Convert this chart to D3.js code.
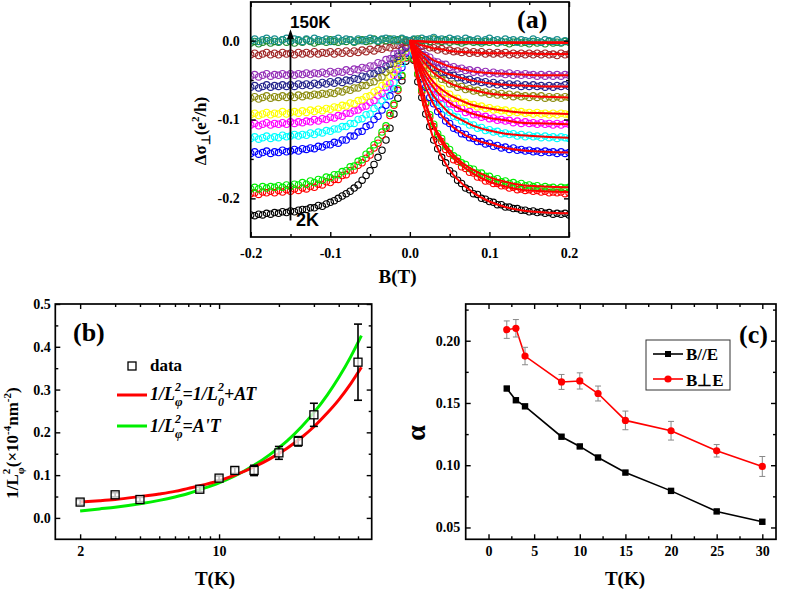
<!DOCTYPE html>
<html><head><meta charset="utf-8">
<script src="https://cdn.jsdelivr.net/npm/d3@7"></script>
<style>body{margin:0;background:#fff}svg{display:block}</style>
</head><body>
<svg id="chart" width="787" height="592"></svg>
<script>
// ---------- Panel (a): magnetoconductance vs B ----------
const fieldB = [-0.200,-0.195,-0.190,-0.185,-0.180,-0.175,-0.170,-0.165,-0.160,-0.155,-0.150,-0.145,-0.140,-0.135,-0.130,-0.125,-0.120,-0.115,-0.110,-0.105,-0.100,-0.095,-0.090,-0.085,-0.080,-0.075,-0.070,-0.065,-0.060,-0.055,-0.050,-0.045,-0.040,-0.035,-0.030,-0.025,-0.020,-0.015,-0.010,-0.005,0,
0.005,0.010,0.015,0.020,0.025,0.030,0.035,0.040,0.045,0.050,0.055,0.060,0.065,0.070,0.075,0.080,0.085,0.090,0.095,0.100,0.105,0.110,0.115,0.120,0.125,0.130,0.135,0.140,0.145,0.150,0.155,0.160,0.165,0.170,0.175,0.180,0.185,0.190,0.195,0.200];
const temps = ["2K","3K","4K","8K","10K","12K","15K","20K","25K","30K","50K","100K","150K"];
const seriesColors = ["#000000","#ff0000","#00ee00","#0000ff","#00ffff","#ff00ff","#ffff00","#8c8c10","#24248c","#9530b8","#a02828","#1e8a2a","#1a9090"];
const ds2K = [-.221,-.222,-.220,-.221,-.219,-.220,-.218,-.219,-.217,-.218,-.216,-.217,-.215,-.214,-.214,-.212,-.212,-.209,-.210,-.207,-.205,-.203,-.200,-.197,-.194,-.191,-.187,-.183,-.177,-.171,-.165,-.157,-.148,-.139,-.126,-.111,-.093,-.073,-.051,-.026,0,
-.025,-.052,-.072,-.093,-.109,-.126,-.137,-.148,-.155,-.165,-.169,-.177,-.181,-.187,-.189,-.194,-.195,-.200,-.201,-.204,-.205,-.208,-.208,-.211,-.211,-.213,-.213,-.215,-.215,-.217,-.216,-.218,-.217,-.219,-.218,-.220,-.219,-.220,-.219,-.221];
const ds3K = [-.194,-.193,-.195,-.192,-.193,-.191,-.193,-.190,-.192,-.189,-.191,-.188,-.190,-.187,-.188,-.185,-.186,-.182,-.183,-.179,-.180,-.176,-.176,-.171,-.170,-.165,-.164,-.158,-.155,-.149,-.145,-.136,-.130,-.120,-.111,-.095,-.082,-.063,-.045,-.022,0,
-.024,-.043,-.065,-.080,-.097,-.109,-.122,-.128,-.138,-.143,-.151,-.153,-.160,-.162,-.167,-.168,-.173,-.174,-.178,-.178,-.181,-.181,-.184,-.184,-.187,-.186,-.189,-.188,-.190,-.189,-.191,-.190,-.192,-.191,-.193,-.192,-.193,-.192,-.194,-.193];
const ds4K = [-.188,-.186,-.188,-.185,-.187,-.185,-.186,-.184,-.186,-.183,-.185,-.182,-.183,-.180,-.182,-.178,-.180,-.176,-.177,-.173,-.174,-.170,-.170,-.166,-.165,-.160,-.159,-.153,-.151,-.144,-.140,-.132,-.126,-.116,-.108,-.092,-.080,-.061,-.044,-.021,0,
-.023,-.042,-.063,-.078,-.094,-.106,-.118,-.124,-.134,-.138,-.146,-.149,-.155,-.157,-.162,-.163,-.168,-.168,-.172,-.172,-.176,-.175,-.179,-.178,-.181,-.180,-.183,-.181,-.184,-.183,-.185,-.184,-.187,-.185,-.187,-.186,-.188,-.186,-.187,-.186];
const ds8K = [-.143,-.141,-.144,-.142,-.140,-.143,-.141,-.142,-.139,-.141,-.140,-.138,-.140,-.137,-.138,-.136,-.137,-.134,-.135,-.132,-.132,-.129,-.130,-.126,-.126,-.121,-.121,-.116,-.115,-.109,-.107,-.100,-.096,-.088,-.082,-.070,-.061,-.046,-.034,-.016,0,
-.018,-.032,-.048,-.059,-.072,-.080,-.090,-.094,-.102,-.105,-.111,-.113,-.118,-.119,-.123,-.124,-.128,-.128,-.131,-.130,-.134,-.133,-.136,-.135,-.138,-.136,-.139,-.138,-.140,-.139,-.141,-.140,-.142,-.140,-.142,-.141,-.143,-.141,-.143,-.142];
const ds10K = [-.124,-.122,-.125,-.123,-.121,-.124,-.122,-.123,-.120,-.122,-.121,-.119,-.121,-.119,-.120,-.117,-.119,-.116,-.117,-.114,-.115,-.112,-.112,-.109,-.109,-.105,-.105,-.100,-.099,-.094,-.093,-.086,-.083,-.076,-.071,-.060,-.053,-.040,-.029,-.014,0,
-.016,-.027,-.042,-.051,-.062,-.069,-.078,-.081,-.088,-.091,-.096,-.097,-.102,-.103,-.107,-.107,-.111,-.110,-.114,-.113,-.116,-.115,-.118,-.117,-.119,-.118,-.121,-.119,-.122,-.120,-.122,-.121,-.123,-.121,-.123,-.122,-.124,-.122,-.123,-.124];
const ds12K = [-.107,-.105,-.108,-.106,-.104,-.107,-.105,-.106,-.104,-.106,-.103,-.105,-.103,-.104,-.102,-.103,-.100,-.102,-.099,-.100,-.097,-.098,-.095,-.096,-.092,-.092,-.089,-.088,-.084,-.083,-.078,-.076,-.070,-.067,-.059,-.054,-.044,-.036,-.023,-.014,0,
-.012,-.025,-.034,-.046,-.052,-.061,-.065,-.072,-.074,-.080,-.081,-.086,-.086,-.091,-.090,-.094,-.094,-.097,-.096,-.099,-.098,-.101,-.100,-.102,-.101,-.104,-.102,-.105,-.103,-.105,-.104,-.106,-.104,-.106,-.105,-.107,-.105,-.107,-.105,-.106];
const ds15K = [-.094,-.092,-.095,-.093,-.091,-.094,-.092,-.093,-.090,-.093,-.091,-.090,-.092,-.089,-.091,-.088,-.090,-.087,-.089,-.086,-.087,-.084,-.085,-.082,-.083,-.079,-.080,-.076,-.075,-.071,-.070,-.065,-.063,-.057,-.054,-.045,-.040,-.030,-.022,-.010,0,
-.012,-.020,-.032,-.038,-.047,-.052,-.059,-.061,-.067,-.068,-.073,-.073,-.078,-.078,-.081,-.081,-.084,-.083,-.086,-.085,-.088,-.087,-.089,-.088,-.091,-.089,-.091,-.090,-.092,-.091,-.093,-.091,-.093,-.092,-.094,-.092,-.094,-.092,-.093,-.094];
const ds20K = [-.073,-.071,-.074,-.072,-.070,-.073,-.071,-.072,-.070,-.072,-.070,-.072,-.069,-.071,-.069,-.070,-.068,-.069,-.067,-.068,-.066,-.067,-.064,-.065,-.062,-.063,-.060,-.060,-.057,-.057,-.053,-.052,-.047,-.046,-.040,-.037,-.029,-.025,-.016,-.010,0,
-.008,-.018,-.023,-.031,-.035,-.042,-.044,-.049,-.050,-.055,-.055,-.059,-.058,-.062,-.061,-.064,-.063,-.066,-.065,-.068,-.066,-.069,-.067,-.070,-.068,-.071,-.069,-.071,-.070,-.072,-.070,-.072,-.070,-.073,-.071,-.073,-.071,-.073,-.071,-.072];
const ds25K = [-.059,-.057,-.060,-.058,-.056,-.059,-.057,-.058,-.056,-.058,-.056,-.058,-.055,-.057,-.055,-.057,-.054,-.056,-.053,-.055,-.052,-.054,-.051,-.053,-.050,-.051,-.048,-.049,-.045,-.046,-.042,-.042,-.038,-.037,-.032,-.030,-.023,-.020,-.012,-.008,0,
-.006,-.014,-.018,-.025,-.028,-.034,-.035,-.040,-.040,-.044,-.044,-.047,-.047,-.050,-.049,-.052,-.051,-.053,-.052,-.055,-.053,-.056,-.054,-.057,-.055,-.057,-.055,-.058,-.056,-.058,-.056,-.058,-.057,-.059,-.057,-.059,-.057,-.058,-.056,-.058];
const ds30K = [-.045,-.043,-.046,-.044,-.042,-.045,-.043,-.044,-.042,-.044,-.042,-.044,-.042,-.043,-.041,-.043,-.041,-.042,-.040,-.042,-.039,-.041,-.039,-.040,-.037,-.039,-.036,-.037,-.034,-.035,-.032,-.032,-.028,-.029,-.024,-.023,-.017,-.016,-.009,-.006,0,
-.004,-.011,-.014,-.019,-.021,-.026,-.027,-.030,-.030,-.034,-.033,-.036,-.035,-.038,-.037,-.040,-.038,-.041,-.039,-.042,-.040,-.042,-.041,-.043,-.041,-.044,-.042,-.044,-.042,-.044,-.043,-.045,-.043,-.045,-.043,-.045,-.043,-.045,-.043,-.044];
const ds50K = [-.018,-.016,-.019,-.017,-.015,-.018,-.016,-.018,-.015,-.017,-.016,-.018,-.015,-.017,-.015,-.017,-.014,-.017,-.015,-.016,-.014,-.017,-.014,-.016,-.013,-.016,-.013,-.015,-.012,-.014,-.011,-.013,-.010,-.011,-.008,-.009,-.006,-.006,-.003,-.002,0,
-.003,-.003,-.007,-.006,-.009,-.009,-.012,-.010,-.013,-.012,-.014,-.013,-.015,-.013,-.016,-.014,-.016,-.014,-.017,-.015,-.017,-.015,-.017,-.015,-.018,-.016,-.018,-.016,-.018,-.016,-.018,-.016,-.018,-.016,-.018,-.017,-.019,-.016,-.018,-.017];
const ds100K = [-.003,-.001,-.004,-.002,.000,-.003,-.001,-.002,.001,-.002,-.001,-.003,.000,-.002,.001,-.001,-.003,-.001,.000,-.002,.001,-.001,-.002,.000,-.001,.001,-.002,.000,.001,-.001,.000,.002,-.001,.001,.000,.002,.000,.001,.002,.000,0,
.001,.002,.000,.001,-.001,.002,.000,-.001,.001,-.002,.000,-.001,-.003,-.001,.000,-.002,-.001,-.003,-.001,-.002,.000,-.003,-.001,-.002,-.004,-.002,-.001,-.003,-.002,-.004,-.001,-.003,-.002,-.004,-.001,-.003,-.002,-.003,-.001,-.002];
const ds150K = [.000,.002,-.001,.001,.003,.000,.002,-.001,.001,.003,.000,.002,.001,-.001,.002,.000,.003,.001,.000,.002,-.001,.001,.003,.000,.002,.001,-.001,.002,.000,.001,.003,.001,.000,.002,.003,.001,.002,.000,.003,.001,0,
.002,.000,.003,.001,.002,.004,.001,.002,.000,.003,.001,.002,.000,.003,.001,.000,.002,-.001,.001,.003,.000,.001,-.001,.002,.000,.001,-.002,.001,.000,-.001,.002,.000,-.002,.001,.000,-.001,.001,-.002,.000,-.001];
const fitB = [0,0.005,0.01,0.015,0.02,0.03,0.04,0.05,0.06,0.08,0.1,0.12,0.14,0.17,0.2];
const fit2K = [0,-.026,-.051,-.073,-.092,-.125,-.147,-.164,-.176,-.193,-.204,-.211,-.215,-.218,-.219];
const fit3K = [0,-.023,-.044,-.064,-.081,-.110,-.129,-.144,-.154,-.169,-.179,-.185,-.189,-.191,-.192];
const fit4K = [0,-.022,-.043,-.062,-.079,-.107,-.125,-.139,-.150,-.164,-.173,-.179,-.183,-.185,-.186];
const fit8K = [0,-.017,-.033,-.047,-.060,-.081,-.095,-.106,-.114,-.125,-.131,-.136,-.139,-.141,-.142];
const fit10K = [0,-.015,-.028,-.041,-.052,-.070,-.082,-.092,-.098,-.108,-.114,-.118,-.120,-.122,-.123];
const fit12K = [0,-.013,-.024,-.035,-.045,-.060,-.071,-.079,-.085,-.093,-.098,-.101,-.104,-.105,-.106];
const fit15K = [0,-.011,-.021,-.031,-.039,-.053,-.062,-.069,-.074,-.082,-.086,-.089,-.091,-.092,-.093];
const fit20K = [0,-.009,-.017,-.024,-.030,-.041,-.048,-.054,-.058,-.063,-.067,-.069,-.070,-.071,-.072];
const fit25K = [0,-.007,-.013,-.019,-.024,-.033,-.039,-.043,-.046,-.051,-.054,-.056,-.057,-.058,-.058];
const fit30K = [0,-.005,-.010,-.015,-.018,-.025,-.029,-.033,-.035,-.039,-.041,-.042,-.043,-.044,-.044];
const fit50K = [0,-.002,-.004,-.006,-.007,-.010,-.011,-.013,-.014,-.015,-.016,-.016,-.016,-.017,-.017];
const fit100K = [0,-.0003,-.0006,-.0008,-.001,-.0013,-.0015,-.0017,-.0018,-.0019,-.002,-.002,-.002,-.002,-.002];
const fit150K = [0,-.0005,-.001,-.0012,-.0015,-.002,-.0022,-.0024,-.0026,-.0028,-.003,-.003,-.003,-.003,-.003];
const aXTicks = [-0.2,-0.1,0,0.1,0.2], aXLabels = ["-0.2","-0.1","0.0","0.1","0.2"], aXMinor = [-0.15,-0.05,0.05,0.15];
const aYTicks = [-0.2,-0.1,0], aYLabels = ["-0.2","-0.1","0.0"], aYMinor = [-0.15,-0.05];

// ---------- Panel (b): 1/Lphi^2 vs T ----------
const lphiT = [2,3,4,8,10,12,15,20,25,30,50];
const lphiVal = [0.037,0.054,0.043,0.067,0.093,0.111,0.111,0.152,0.179,0.241,0.364];
const lphiErr = [0.006,0.005,0.005,0.006,0.005,0.007,0.012,0.015,0.011,0.027,0.089];
const fitT = [2,2.5,3,4,5,6,7,8,10,12,15,18,22,26,30,35,40,46,52];
const fitRed = [0.037,0.040,0.043,0.050,0.056,0.062,0.069,0.075,0.087,0.100,0.119,0.138,0.163,0.188,0.213,0.245,0.276,0.314,0.352];
const fitGreen = [0.016,0.021,0.025,0.033,0.041,0.049,0.057,0.066,0.082,0.098,0.123,0.148,0.180,0.213,0.246,0.287,0.328,0.377,0.426];
const bXTicks = [2,10], bXLabels = ["2","10"], bXMinor = [3,4,5,6,7,8,9,20,30,40,50];
const bYTicks = [0,0.1,0.2,0.3,0.4,0.5], bYLabels = ["0.0","0.1","0.2","0.3","0.4","0.5"], bYMinor = [0.05,0.15,0.25,0.35,0.45];

// ---------- Panel (c): alpha vs T ----------
const alphaT = [2,3,4,8,10,12,15,20,25,30];
const alphaPar = [0.1616,0.1522,0.1473,0.1229,0.1151,0.1062,0.0941,0.0794,0.0629,0.0546];
const alphaParErr = [0.0015,0.0015,0.0012,0.0012,0.0012,0.0012,0.0012,0.0012,0.0012,0.0018];
const alphaPerp = [0.2089,0.2100,0.1877,0.1669,0.1677,0.1576,0.1360,0.1277,0.1116,0.0990];
const alphaPerpErr = [0.007,0.007,0.007,0.006,0.0065,0.006,0.0075,0.0075,0.005,0.008];
const cXTicks = [0,5,10,15,20,25,30], cXLabels = ["0","5","10","15","20","25","30"], cXMinor = [2.5,7.5,12.5,17.5,22.5,27.5];
const cYTicks = [0.05,0.10,0.15,0.20], cYLabels = ["0.05","0.10","0.15","0.20"], cYMinor = [0.075,0.125,0.175,0.225];

const SERIF = "'Liberation Serif','Times New Roman',serif";
const SANS = "'Liberation Sans',Arial,sans-serif";
const svg = d3.select("#chart");

function drawAxes(g, xs, ys, o) {
  const [xl, xr] = xs.range(), [yb, yt] = ys.range();
  const mk = (axis, tr, vals, size, labels, pad) => {
    const a = axis.tickValues(vals).tickSize(size).tickSizeOuter(0).tickPadding(pad || 0)
      .tickFormat(labels ? (d, i) => labels[i] : () => "");
    const gg = g.append("g").attr("transform", tr).call(a);
    gg.select(".domain").remove();
    gg.attr("font-family", SERIF).attr("font-size", 14).attr("font-weight", "bold");
    gg.selectAll("line").attr("stroke", "#000").attr("stroke-width", 1.4);
    gg.selectAll("text").attr("fill", "#000");
  };
  mk(d3.axisBottom(xs), `translate(0,${yb})`, o.xMajor, -5, o.xLabels, o.xPad);
  mk(d3.axisBottom(xs), `translate(0,${yb})`, o.xMinor, -3);
  mk(d3.axisTop(xs), `translate(0,${yt})`, o.xMajor, -5);
  mk(d3.axisTop(xs), `translate(0,${yt})`, o.xMinor, -3);
  mk(d3.axisLeft(ys), `translate(${xl},0)`, o.yMajor, -5, o.yLabels, o.yPad);
  mk(d3.axisLeft(ys), `translate(${xl},0)`, o.yMinor, -3);
  mk(d3.axisRight(ys), `translate(${xr},0)`, o.yMajor, -5);
  mk(d3.axisRight(ys), `translate(${xr},0)`, o.yMinor, -3);
  g.append("rect").attr("x", xl).attr("y", yt).attr("width", xr - xl).attr("height", yb - yt)
    .attr("fill", "none").attr("stroke", "#000").attr("stroke-width", 1.7);
}

// ===== Panel (a) =====
{
  const g = svg.append("g");
  const x = d3.scaleLinear().domain([-0.2, 0.2]).range([250.7, 569]);
  const y = d3.scaleLinear().domain([-0.249, 0.049]).range([237, 2]);
  svg.append("defs").append("clipPath").attr("id", "clipA").append("rect")
    .attr("x", 250.7).attr("y", 2).attr("width", 569 - 250.7).attr("height", 235);
  const allDs = [ds2K, ds3K, ds4K, ds8K, ds10K, ds12K, ds15K, ds20K, ds25K, ds30K, ds50K, ds100K, ds150K];
  const allFit = [fit2K, fit3K, fit4K, fit8K, fit10K, fit12K, fit15K, fit20K, fit25K, fit30K, fit50K, fit100K, fit150K];
  const pg = g.append("g").attr("clip-path", "url(#clipA)");
  allDs.forEach((vals, k) => {
    pg.append("g").selectAll("circle").data(vals).join("circle")
      .attr("cx", (d, i) => x(fieldB[i])).attr("cy", d => y(d)).attr("r", 3.2)
      .attr("fill", "none").attr("stroke", seriesColors[k]).attr("stroke-width", 1.1);
  });
  const line = d3.line().x((d, i) => x(fitB[i])).y(d => y(d)).curve(d3.curveMonotoneX);
  allFit.forEach(vals => {
    pg.append("path").attr("d", line(vals)).attr("fill", "none").attr("stroke", "#ff0000").attr("stroke-width", 2);
  });
  drawAxes(g, x, y, {xMajor: aXTicks, xLabels: aXLabels, xMinor: aXMinor, xPad: 11,
                     yMajor: aYTicks, yLabels: aYLabels, yMinor: aYMinor, yPad: 11});
  // arrow annotation
  const arrowB = -0.15, arrowFrom = -0.228, arrowTo = 0.0145;
  const ax0 = x(arrowB), ay0 = y(arrowFrom), ay1 = y(arrowTo);
  g.append("line").attr("x1", ax0).attr("x2", ax0).attr("y1", ay0).attr("y2", ay1 + 8)
    .attr("stroke", "#000").attr("stroke-width", 1.8);
  g.append("path").attr("d", `M${ax0},${ay1} L${ax0 - 3.5},${ay1 + 10} L${ax0 + 3.5},${ay1 + 10} Z`).attr("fill", "#000");
  g.append("text").attr("x", 290).attr("y", 28).attr("font-family", SANS).attr("font-weight", "bold")
    .attr("font-size", 17).text("150K");
  g.append("text").attr("x", 296).attr("y", 226).attr("font-family", SANS).attr("font-weight", "bold")
    .attr("font-size", 18).text("2K");
  g.append("text").attr("x", 517).attr("y", 28).attr("font-family", SERIF).attr("font-weight", "bold")
    .attr("font-size", 26).text("(a)");
  g.append("text").attr("x", 397.5).attr("y", 283).attr("text-anchor", "middle").attr("font-family", SERIF)
    .attr("font-weight", "bold").attr("font-size", 19).text("B(T)");
  const yl = g.append("text").attr("transform", "translate(206,131) rotate(-90)").attr("text-anchor", "middle")
    .attr("font-family", SERIF).attr("font-weight", "bold").attr("font-size", 17);
  yl.append("tspan").text("Δσ");
  yl.append("tspan").attr("font-size", 12).attr("dy", 4).text("⊥");
  yl.append("tspan").attr("dy", -4).text("(e");
  yl.append("tspan").attr("font-size", 11).attr("dy", -7).text("2");
  yl.append("tspan").attr("dy", 7).text("/h)");
}

// ===== Panel (b) =====
{
  const g = svg.append("g");
  const x = d3.scaleLog().domain([1.5, 58.6]).range([55.3, 371.7]);
  const y = d3.scaleLinear().domain([-0.05, 0.5]).range([539.3, 304]);
  const line = d3.line().x((d, i) => x(fitT[i])).y(d => y(d)).curve(d3.curveMonotoneX);
  g.append("path").attr("d", line(fitGreen)).attr("fill", "none").attr("stroke", "#00ee00").attr("stroke-width", 3);
  g.append("path").attr("d", line(fitRed)).attr("fill", "none").attr("stroke", "#ff0000").attr("stroke-width", 3);
  lphiT.forEach((t, i) => {
    const cx = x(t), y1 = y(lphiVal[i] - lphiErr[i]), y2 = y(lphiVal[i] + lphiErr[i]);
    g.append("line").attr("x1", cx).attr("x2", cx).attr("y1", y1).attr("y2", y2).attr("stroke", "#000").attr("stroke-width", 1.6);
    [y1, y2].forEach(yy => g.append("line").attr("x1", cx - 4).attr("x2", cx + 4).attr("y1", yy).attr("y2", yy)
      .attr("stroke", "#000").attr("stroke-width", 1.6));
  });
  g.selectAll("rect.pt").data(lphiVal).join("rect").attr("class", "pt")
    .attr("x", (d, i) => x(lphiT[i]) - 4).attr("y", d => y(d) - 4).attr("width", 8).attr("height", 8)
    .attr("fill", "#fff").attr("fill-opacity", 0.75).attr("stroke", "#000").attr("stroke-width", 1.3);
  drawAxes(g, x, y, {xMajor: bXTicks, xLabels: bXLabels, xMinor: bXMinor, xPad: 7,
                     yMajor: bYTicks, yLabels: bYLabels, yMinor: bYMinor, yPad: 4.5});
  g.append("text").attr("x", 73).attr("y", 341).attr("font-family", SERIF).attr("font-weight", "bold")
    .attr("font-size", 26).text("(b)");
  // legend
  g.append("rect").attr("x", 128).attr("y", 362).attr("width", 8).attr("height", 8).attr("fill", "none")
    .attr("stroke", "#000").attr("stroke-width", 1.3);
  g.append("text").attr("x", 150).attr("y", 371).attr("font-family", SERIF).attr("font-weight", "bold")
    .attr("font-size", 17).text("data");
  g.append("line").attr("x1", 117).attr("x2", 147).attr("y1", 395).attr("y2", 395).attr("stroke", "#ff0000").attr("stroke-width", 3);
  g.append("line").attr("x1", 117).attr("x2", 147).attr("y1", 426).attr("y2", 426).attr("stroke", "#00ee00").attr("stroke-width", 3);
  const t1 = g.append("text").attr("x", 150).attr("y", 400).attr("font-family", SERIF).attr("font-weight", "bold")
    .attr("font-style", "italic").attr("font-size", 18);
  t1.append("tspan").text("1/L");
  t1.append("tspan").attr("font-size", 12).attr("dy", -9).text("2");
  t1.append("tspan").attr("font-size", 13).attr("dx", -6).attr("dy", 15).text("φ");
  t1.append("tspan").attr("dy", -6).text("=1/L");
  t1.append("tspan").attr("font-size", 12).attr("dy", -9).text("2");
  t1.append("tspan").attr("font-size", 12).attr("dx", -6).attr("dy", 15).text("0");
  t1.append("tspan").attr("dy", -6).text("+AT");
  const t2 = g.append("text").attr("x", 150).attr("y", 432).attr("font-family", SERIF).attr("font-weight", "bold")
    .attr("font-style", "italic").attr("font-size", 18);
  t2.append("tspan").text("1/L");
  t2.append("tspan").attr("font-size", 12).attr("dy", -9).text("2");
  t2.append("tspan").attr("font-size", 13).attr("dx", -6).attr("dy", 15).text("φ");
  t2.append("tspan").attr("dy", -6).text("=A'T");
  g.append("text").attr("x", 215).attr("y", 585).attr("text-anchor", "middle").attr("font-family", SERIF)
    .attr("font-weight", "bold").attr("font-size", 19).text("T(K)");
  const yl = g.append("text").attr("transform", "translate(18,443) rotate(-90)").attr("text-anchor", "middle")
    .attr("font-family", SERIF).attr("font-weight", "bold").attr("font-size", 17);
  yl.append("tspan").text("1/L");
  yl.append("tspan").attr("font-size", 11).attr("dy", -8).text("2");
  yl.append("tspan").attr("font-size", 11).attr("dx", -5.5).attr("dy", 14).text("φ");
  yl.append("tspan").attr("dy", -6).text("(×10");
  yl.append("tspan").attr("font-size", 11).attr("dy", -7).text("-4");
  yl.append("tspan").attr("dy", 7).text("nm");
  yl.append("tspan").attr("font-size", 11).attr("dy", -7).text("-2");
  yl.append("tspan").attr("dy", 7).text(")");
}

// ===== Panel (c) =====
{
  const g = svg.append("g");
  const x = d3.scaleLinear().domain([-2.5, 31.5]).range([465.7, 776]);
  const y = d3.scaleLinear().domain([0.0405, 0.2295]).range([539.3, 304]);
  const line = d3.line().x((d, i) => x(alphaT[i])).y(d => y(d));
  g.append("path").attr("d", line(alphaPar)).attr("fill", "none").attr("stroke", "#000").attr("stroke-width", 1.6);
  g.append("path").attr("d", line(alphaPerp)).attr("fill", "none").attr("stroke", "#ff0000").attr("stroke-width", 1.6);
  const errs = (vals, e) => alphaT.forEach((t, i) => {
    const cx = x(t), y1 = y(vals[i] - e[i]), y2 = y(vals[i] + e[i]);
    g.append("line").attr("x1", cx).attr("x2", cx).attr("y1", y1).attr("y2", y2).attr("stroke", "#888").attr("stroke-width", 1);
    [y1, y2].forEach(yy => g.append("line").attr("x1", cx - 3).attr("x2", cx + 3).attr("y1", yy).attr("y2", yy)
      .attr("stroke", "#888").attr("stroke-width", 1));
  });
  errs(alphaPar, alphaParErr);
  errs(alphaPerp, alphaPerpErr);
  g.selectAll("rect.sq").data(alphaPar).join("rect").attr("class", "sq")
    .attr("x", (d, i) => x(alphaT[i]) - 3.2).attr("y", d => y(d) - 3.2).attr("width", 6.4).attr("height", 6.4).attr("fill", "#000");
  g.selectAll("circle.ci").data(alphaPerp).join("circle").attr("class", "ci")
    .attr("cx", (d, i) => x(alphaT[i])).attr("cy", d => y(d)).attr("r", 3.6).attr("fill", "#ff0000");
  drawAxes(g, x, y, {xMajor: cXTicks, xLabels: cXLabels, xMinor: cXMinor, xPad: 7,
                     yMajor: cYTicks, yLabels: cYLabels, yMinor: cYMinor, yPad: 5.5});
  g.append("text").attr("x", 739).attr("y", 343).attr("font-family", SERIF).attr("font-weight", "bold")
    .attr("font-size", 26).text("(c)");
  // legend
  g.append("rect").attr("x", 646).attr("y", 340).attr("width", 84).attr("height", 50).attr("fill", "#fff")
    .attr("stroke", "#333").attr("stroke-width", 1);
  g.append("line").attr("x1", 653).attr("x2", 683).attr("y1", 354).attr("y2", 354).attr("stroke", "#000").attr("stroke-width", 1.6);
  g.append("rect").attr("x", 665).attr("y", 351).attr("width", 6).attr("height", 6).attr("fill", "#000");
  g.append("line").attr("x1", 653).attr("x2", 683).attr("y1", 379).attr("y2", 379).attr("stroke", "#ff0000").attr("stroke-width", 1.6);
  g.append("circle").attr("cx", 668).attr("cy", 379).attr("r", 3.6).attr("fill", "#ff0000");
  g.append("text").attr("x", 686).attr("y", 360).attr("font-family", SERIF).attr("font-weight", "bold")
    .attr("font-size", 17).text("B//E");
  g.append("text").attr("x", 686).attr("y", 386).attr("font-family", SERIF).attr("font-weight", "bold")
    .attr("font-size", 17).text("B⊥E");
  g.append("text").attr("x", 625).attr("y", 585).attr("text-anchor", "middle").attr("font-family", SERIF)
    .attr("font-weight", "bold").attr("font-size", 19).text("T(K)");
  g.append("text").attr("transform", "translate(425,433) rotate(-90)").attr("text-anchor", "middle")
    .attr("font-family", SERIF).attr("font-weight", "bold").attr("font-size", 28).text("α");
}
</script>
</body></html>
